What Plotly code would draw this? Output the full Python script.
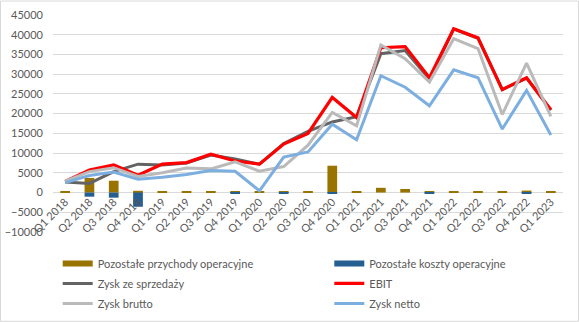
import plotly.graph_objects as go

quarters = ["Q1 2018", "Q2 2018", "Q3 2018", "Q4 2018",
            "Q1 2019", "Q2 2019", "Q3 2019", "Q4 2019",
            "Q1 2020", "Q2 2020", "Q3 2020", "Q4 2020",
            "Q1 2021", "Q2 2021", "Q3 2021", "Q4 2021",
            "Q1 2022", "Q2 2022", "Q3 2022", "Q4 2022",
            "Q1 2023"]

pozostale_przychody = [250, 3700, 3000, 450, 300, 300, 300, 300, 300, 300, 300,
                       6800, 300, 1200, 900, 300, 300, 300, 300, 500, 300]
pozostale_koszty = [0, -1050, -1300, -3600, 0, 0, 0, -300, 0, -300, 0,
                    -200, 0, 0, 0, -200, 0, 0, 0, -200, 0]
zysk_ze_sprzedazy = [2700, 2300, 5300, 7200, 7000, 7500, 9500, 8500, 7200, 12400, 15500,
                     17900, 19200, 35200, 36000, 28800, 41400, 39100, 26100, 29000, 20900]
ebit = [2800, 5700, 7000, 4400, 7200, 7600, 9700, 8000, 7200, 12300, 15000,
        24100, 19000, 36700, 37000, 29100, 41500, 39200, 26100, 29100, 21000]
zysk_brutto = [2900, 5300, 6300, 4100, 5000, 6200, 6000, 7800, 5400, 6600, 12000,
               20300, 16900, 37400, 33900, 28000, 39000, 36500, 19800, 32800, 19300]
zysk_netto = [2500, 4300, 5200, 3400, 3900, 4600, 5600, 5400, 450, 9000, 10300,
              17300, 13400, 29600, 26700, 22000, 31100, 29100, 16100, 25900, 14600]

y_min, y_max, y_step = -10000, 45000, 5000
y_ticks = list(range(y_min, y_max + 1, y_step))

font_family = "Lato"
text_color = "#595959"
gold = "#997300"
navy = "#255E91"

fig = go.Figure()

fig.add_trace(go.Bar(x=quarters, y=pozostale_przychody, name="Pozostałe przychody operacyjne",
                     marker=dict(color=gold, line=dict(width=0)), width=0.4,
                     showlegend=False))
fig.add_trace(go.Bar(x=quarters, y=pozostale_koszty, name="Pozostałe koszty operacyjne",
                     marker=dict(color=navy, line=dict(width=0)), width=0.4,
                     showlegend=False))
fig.add_trace(go.Scatter(x=[None], y=[None], name="Pozostałe przychody operacyjne", mode="lines",
                         line=dict(color=gold, width=6), legend="legend", legendgroup="a"))
fig.add_trace(go.Scatter(x=[None], y=[None], name="Pozostałe koszty operacyjne", mode="lines",
                         line=dict(color=navy, width=6), legend="legend2", legendgroup="b"))
fig.add_trace(go.Scatter(x=quarters, y=zysk_ze_sprzedazy, name="Zysk ze sprzedaży", mode="lines",
                         line=dict(color="#636363", width=3), legend="legend", legendgroup="c"))
fig.add_trace(go.Scatter(x=quarters, y=ebit, name="EBIT", mode="lines",
                         line=dict(color="#FF0000", width=3.2), legend="legend2", legendgroup="d"))
fig.add_trace(go.Scatter(x=quarters, y=zysk_brutto, name="Zysk brutto", mode="lines",
                         line=dict(color="#BABABA", width=3), legend="legend", legendgroup="e"))
fig.add_trace(go.Scatter(x=quarters, y=zysk_netto, name="Zysk netto", mode="lines",
                         line=dict(color="#7DAEE0", width=3), legend="legend2", legendgroup="f"))

L, R, T, B = 53, 16, 14.5, 90
W, H = 579, 322
pw = W - L - R
ph = H - T - B

legend_common = dict(
    orientation="v", xanchor="left", yanchor="top",
    font=dict(family=font_family, size=11, color=text_color),
    bgcolor="rgba(0,0,0,0)", borderwidth=0, tracegroupgap=1,
    itemclick=False,
)

legend_top = 249

fig.update_layout(
    width=W, height=H,
    margin=dict(l=L, r=R, t=T, b=B, autoexpand=False),
    paper_bgcolor="white", plot_bgcolor="white",
    barmode="relative",
    font=dict(family=font_family, size=11, color=text_color),
    legend=dict(x=(57.7 - L) / pw, y=(H - B - legend_top) / ph, **legend_common),
    legend2=dict(x=(329.3 - L) / pw, y=(H - B - legend_top) / ph, **legend_common),
    xaxis=dict(
        type="category", tickangle=-45, showgrid=False, showline=False, zeroline=False,
        ticks="", anchor="free", position=(0 - y_min) / (y_max - y_min),
        tickfont=dict(family=font_family, size=11, color=text_color),
    ),
    yaxis=dict(
        range=[y_min, y_max], tickvals=y_ticks, tickformat="d",
        showgrid=True, gridcolor="#D9D9D9",
        gridwidth=1, zeroline=True, zerolinecolor="#D9D9D9", zerolinewidth=1,
        showline=False, ticks="", ticklabelstandoff=9,
        tickfont=dict(family=font_family, size=11, color=text_color),
    ),
    shapes=[dict(
        type="rect", xref="paper", yref="paper",
        x0=(0.5 - L) / pw, x1=(W - 0.5 - L) / pw,
        y0=(H - B - (H - 0.5)) / ph, y1=(H - B - 0.5) / ph,
        line=dict(color="#D9D9D9", width=1), fillcolor="rgba(0,0,0,0)", layer="below",
    )],
)

fig.write_html("out.html")
